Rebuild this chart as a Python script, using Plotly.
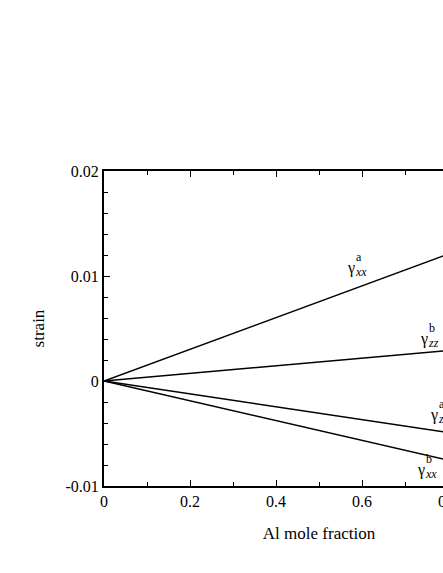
import plotly.graph_objects as go

# strain vs Al mole fraction (linear at x = 0 and x = 1)
al_fraction = [0.0, 1.0]
gamma_xx_a = [0.0, 0.0151]
gamma_zz_b = [0.0, 0.00363]
gamma_zz_a = [0.0, -0.00613]
gamma_xx_b = [0.0, -0.00943]

series = [gamma_xx_a, gamma_zz_b, gamma_zz_a, gamma_xx_b]

x_ticks = [0, 0.2, 0.4, 0.6, 0.8, 1.0]
x_ticktext = ["0", "0.2", "0.4", "0.6", "0.8", "1"]
y_ticks = [-0.01, 0, 0.01, 0.02]
y_ticktext = ["-0.01", "0", "0.01", "0.02"]

# label: (x, y of the gamma, superscript, subscript)
labels = [
    (0.575, 0.0108, "a", "xx"),
    (0.745, 0.0040, "b", "zz"),
    (0.768, -0.0032, "a", "zz"),
    (0.738, -0.0085, "b", "xx"),
]

FONT = "Liberation Serif, Times New Roman, serif"

fig = go.Figure()
for ys in series:
    fig.add_trace(go.Scatter(
        x=al_fraction, y=ys, mode="lines",
        line=dict(color="black", width=1.5),
        showlegend=False, hoverinfo="skip",
    ))

for x, y, sup, sub in labels:
    fig.add_annotation(x=x, y=y, text="γ", showarrow=False,
                       font=dict(size=16, family=FONT, color="black"))
    fig.add_annotation(x=x, y=y, text=sup, showarrow=False,
                       xshift=3, yshift=11, xanchor="left",
                       font=dict(size=12, family=FONT, color="black"))
    fig.add_annotation(x=x, y=y, text=f"<i>{sub}</i>", showarrow=False,
                       xshift=2, yshift=-4, xanchor="left",
                       font=dict(size=12, family=FONT, color="black"))

axis_common = dict(
    showline=True, linecolor="black", linewidth=2, mirror="ticks",
    ticks="inside", ticklen=6, tickwidth=1, tickcolor="black",
    showgrid=False, zeroline=False, automargin=False,
    tickfont=dict(size=16, family=FONT, color="black"),
)

fig.update_xaxes(
    range=[0, 1], tickvals=x_ticks, ticktext=x_ticktext,
    minor=dict(dtick=0.1, ticks="inside", ticklen=4, tickcolor="black"),
    title=dict(text="Al mole fraction", font=dict(size=17, family=FONT, color="black"),
               standoff=18),
    **axis_common,
)
fig.update_yaxes(
    range=[-0.01, 0.02], tickvals=y_ticks, ticktext=y_ticktext,
    minor=dict(tick0=-0.01, dtick=0.002, ticks="inside", ticklen=4, tickcolor="black"),
    title=dict(text="strain", font=dict(size=17, family=FONT, color="black"),
               standoff=17),
    **axis_common,
)

fig.update_layout(
    width=620, height=573,
    margin=dict(l=104, r=86, t=171, b=87),
    plot_bgcolor="white", paper_bgcolor="white",
)

fig.write_html(
    "out.html",
    config={"displayModeBar": False},
    post_script="document.documentElement.style.overflow='hidden';"
                "document.body.style.overflow='hidden';document.body.style.margin='0';",
)
